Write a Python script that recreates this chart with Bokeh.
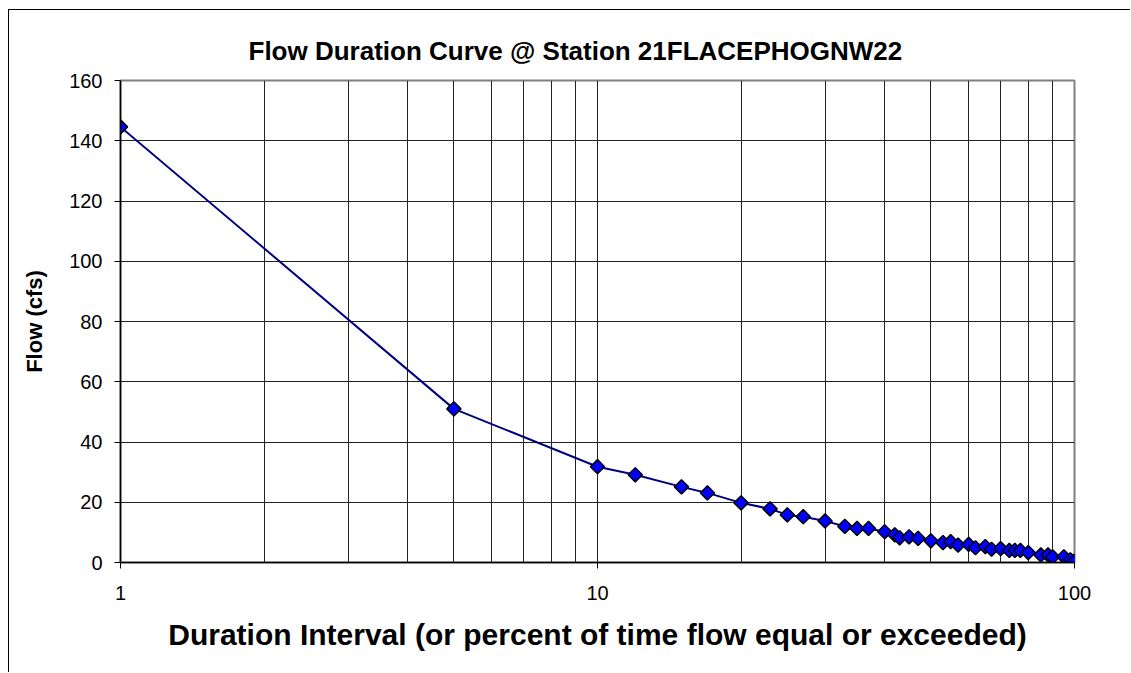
import numpy as np
from bokeh.plotting import figure
from bokeh.models import Range1d, FixedTicker, NumeralTickFormatter
from bokeh.embed import file_html
from bokeh.resources import INLINE

# ---- data ----
duration = [1, 5, 10, 12, 15, 17, 20, 23, 25, 27, 30, 33, 35, 37, 40, 42, 43, 45, 47, 50,
            53, 55, 57, 60, 62, 65, 67, 70, 73, 75, 77, 80, 85, 88, 90, 95, 98, 100]
flow = [144.6, 51, 31.8, 29.1, 25.1, 23.1, 19.8, 17.8, 15.8, 15.2, 13.8, 12.0, 11.3, 11.3,
        10.2, 9.2, 8.2, 8.5, 8.0, 7.2, 6.6, 6.9, 5.8, 6.0, 4.9, 5.3, 4.4, 4.6, 4.0, 4.0,
        4.0, 3.3, 2.5, 2.5, 1.9, 1.9, 0.9, 0.5]
x_major_ticks = [1, 10, 100]
x_minor_ticks = [2, 3, 4, 5, 6, 7, 8, 9, 20, 30, 40, 50, 60, 70, 80, 90]
y_ticks = [0, 20, 40, 60, 80, 100, 120, 140, 160]

title_text = "Flow Duration Curve @ Station 21FLACEPHOGNW22"
x_label = "Duration Interval (or percent of time flow equal or exceeded)"
y_label = "Flow (cfs)"

FONT = "Liberation Sans"

p = figure(width=1122, height=663, output_backend="svg", toolbar_location=None,
           x_axis_type="log", x_range=Range1d(1, 100), y_range=Range1d(0, 160),
           min_border_left=111, min_border_right=57, min_border_top=70, min_border_bottom=111)

p.styles = {"margin-left": "8px", "margin-top": "9px",
            "border-left": "1px solid black", "border-top": "1px solid black"}
p.background_fill_color = "white"
p.border_fill_color = "white"
p.outline_line_color = "#808080"
p.outline_line_width = 2

# title
p.title.text = title_text
p.title.text_font = FONT
p.title.text_font_size = "26px"
p.title.text_font_style = "bold"
p.title.text_color = "black"
p.title.align = "left"
p.title.offset = 128
p.title.standoff = 30

# x axis
p.xaxis.ticker = FixedTicker(ticks=x_major_ticks, minor_ticks=x_minor_ticks)
p.xaxis.formatter = NumeralTickFormatter(format="0")
p.xaxis.axis_label = x_label
p.xaxis.axis_label_text_font = FONT
p.xaxis.axis_label_text_font_size = "30px"
p.xaxis.axis_label_text_font_style = "bold"
p.xaxis.axis_label_text_color = "black"
p.xaxis.axis_label_standoff = 15
p.xaxis.major_label_text_font = FONT
p.xaxis.major_label_text_font_size = "20px"
p.xaxis.major_label_text_color = "black"
p.xaxis.major_label_standoff = 17
p.xaxis.major_tick_in = 0
p.xaxis.major_tick_out = 6
p.xaxis.minor_tick_line_color = None
p.xaxis.axis_line_color = "black"
p.xaxis.axis_line_width = 1.5
p.xaxis.major_tick_line_color = "black"

# y axis
p.yaxis.ticker = FixedTicker(ticks=y_ticks)
p.yaxis.axis_label = y_label
p.yaxis.axis_label_text_font = FONT
p.yaxis.axis_label_text_font_size = "22px"
p.yaxis.axis_label_text_font_style = "bold"
p.yaxis.axis_label_text_color = "black"
p.yaxis.axis_label_standoff = 19
p.yaxis.major_label_text_font = FONT
p.yaxis.major_label_text_font_size = "20px"
p.yaxis.major_label_text_color = "black"
p.yaxis.major_label_standoff = 12
p.yaxis.major_tick_in = 0
p.yaxis.major_tick_out = 6
p.yaxis.minor_tick_line_color = None
p.yaxis.axis_line_color = "black"
p.yaxis.axis_line_width = 1.5
p.yaxis.major_tick_line_color = "black"

# grids
p.xgrid.grid_line_color = "#222222"
p.xgrid.grid_line_width = 1
p.xgrid.minor_grid_line_color = "#222222"
p.xgrid.minor_grid_line_width = 1
p.ygrid.grid_line_color = "#222222"
p.ygrid.grid_line_width = 1

# series
p.line(duration, flow, line_color="#000080", line_width=2)
p.scatter(duration, flow, marker="square", angle=np.pi / 4, size=10,
          fill_color="#0000FF", line_color="black", line_width=1.5)

open("out.html", "w").write(file_html(p, INLINE))
